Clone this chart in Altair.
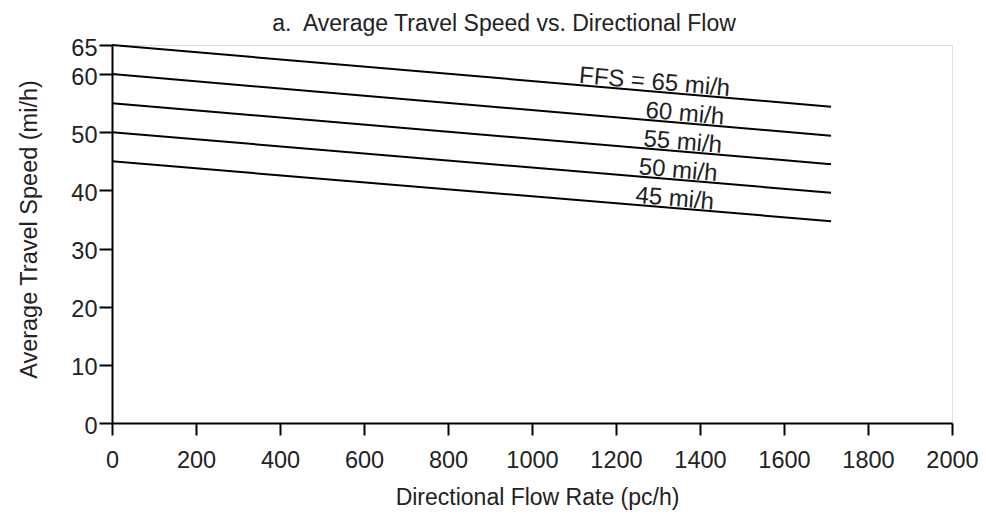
import altair as alt
import pandas as pd

# Data
ffs_labels = ["FFS = 65 mi/h", "60 mi/h", "55 mi/h", "50 mi/h", "45 mi/h"]
flow_start = [0, 0, 0, 0, 0]
flow_end = [1712, 1712, 1712, 1712, 1712]
speed_start = [65, 60, 55, 50, 45]
speed_end = [54.4, 49.4, 44.5, 39.6, 34.7]
label_flow = [1290, 1362, 1357, 1346, 1338]

x_ticks = [0, 200, 400, 600, 800, 1000, 1200, 1400, 1600, 1800, 2000]
y_ticks = [0, 10, 20, 30, 40, 50, 60, 65]

FONT = "Liberation Sans, Arial, Helvetica, sans-serif"
INK = "#222222"

rows = []
for i, name in enumerate(ffs_labels):
    rows.append({"series": name, "flow": flow_start[i], "speed": speed_start[i]})
    rows.append({"series": name, "flow": flow_end[i], "speed": speed_end[i]})
lines_df = pd.DataFrame(rows)

lab_rows = []
for i, name in enumerate(ffs_labels):
    f = label_flow[i]
    s = speed_start[i] + (speed_end[i] - speed_start[i]) * (f - flow_start[i]) / (flow_end[i] - flow_start[i])
    lab_rows.append({"label": name, "flow": f, "speed": s})
labels_df = pd.DataFrame(lab_rows)

x_enc = alt.X(
    "flow:Q",
    scale=alt.Scale(domain=[0, 2000], nice=False),
    axis=alt.Axis(
        values=x_ticks, format="d", labelOverlap=False, labelFlush=False,
        title="Directional Flow Rate (pc/h)", grid=False,
        domainColor="black", domainWidth=2, tickColor="black", tickWidth=2, tickSize=12,
        labelFont=FONT, labelFontSize=23.5, labelColor=INK, labelPadding=13,
        titleFont=FONT, titleFontSize=23, titleColor=INK, titleFontWeight="normal",
        titleX=425, titleY=74, titleBaseline="middle", titleAnchor="middle",
    ),
)
y_enc = alt.Y(
    "speed:Q",
    scale=alt.Scale(domain=[0, 65], nice=False),
    axis=alt.Axis(
        values=y_ticks, labelOverlap=False, labelFlush=False,
        title="Average Travel Speed (mi/h)", grid=False,
        domainColor="black", domainWidth=2, tickColor="black", tickWidth=2, tickSize=13,
        labelFont=FONT, labelFontSize=23.5, labelColor=INK, labelPadding=2, labelOffset=3,
        titleFont=FONT, titleFontSize=23.5, titleColor=INK, titleFontWeight="normal",
        titleX=-83, titleY=184, titleAngle=270, titleBaseline="middle", titleAlign="center",
    ),
)

lines = alt.Chart(lines_df).mark_line(color="black", strokeWidth=2).encode(
    x=x_enc, y=y_enc, detail="series:N"
)

texts = alt.Chart(labels_df).mark_text(
    font=FONT, fontSize=24, color=INK, angle=5, baseline="alphabetic", align="center", dy=-2
).encode(x="flow:Q", y="speed:Q", text="label:N")

chart = (
    alt.layer(lines, texts)
    .properties(
        width=840, height=378,
        title=alt.TitleParams(
            "a.\u00a0 Average Travel Speed vs. Directional Flow",
            font=FONT, fontSize=23, color=INK, fontWeight="normal",
            anchor="middle", dx=-28, offset=4, dy=22, baseline="alphabetic",
        ),
        autosize=alt.AutoSizeParams(type="none"),
        padding={"left": 104, "top": 37, "right": 26, "bottom": 92},
    )
    .configure_view(stroke="black", strokeWidth=1.5)
    .configure(background="white")
)

chart.save("out.html", embed_options={"renderer": "svg", "actions": False})
